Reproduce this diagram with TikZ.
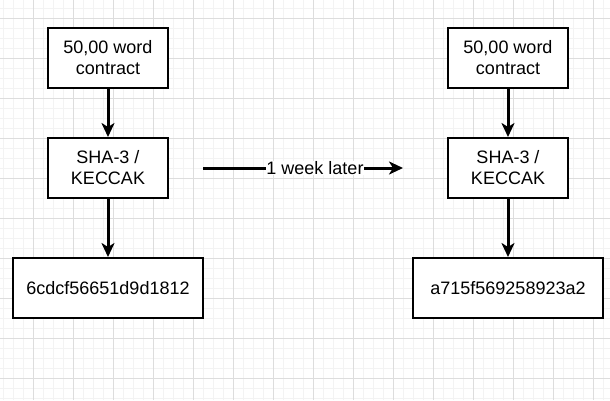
\documentclass[tikz,border=0pt]{standalone}
\usepackage{fontspec}
\setmainfont{Liberation Sans}
\usetikzlibrary{arrows.meta}
\definecolor{gridminor}{RGB}{243,243,243}
\definecolor{gridmajor}{RGB}{221,221,221}
\tikzset{
  hashbox/.style={draw=black, line width=1.5pt, fill=white,
    minimum width=90pt, minimum height=45pt, inner sep=0pt,
    align=center, font=\fontsize{13.5}{15.75}\selectfont},
  wide/.style={minimum width=142.5pt},
  flow/.style={line width=2.25pt,
    -{Stealth[length=10.5pt, width=9.75pt, inset=3pt]}},
}
\begin{document}
\begin{tikzpicture}[x=0.75pt, y=-0.75pt]
  \useasboundingbox (0,0) rectangle (610,400);
  % background grid
  \foreach \gx in {3,13,...,603}
    \draw[gridminor, line width=0.75pt] (\gx,0) -- (\gx,400);
  \foreach \gy in {8,18,...,398}
    \draw[gridminor, line width=0.75pt] (0,\gy) -- (610,\gy);
  \foreach \gx in {33,73,...,593}
    \draw[gridmajor, line width=0.75pt] (\gx,0) -- (\gx,400);
  \foreach \gy in {18,58,...,378}
    \draw[gridmajor, line width=0.75pt] (0,\gy) -- (610,\gy);

  % before
  \node[hashbox] (doc1) at (108,58) {50,00 word\\contract};
  \node[hashbox] (sha1) at (108,168) {SHA-3 /\\KECCAK};
  \node[hashbox, wide] (hash1) at (108,288) {6cdcf56651d9d1812};
  \draw[flow] (doc1) -- (sha1);
  \draw[flow] (sha1) -- (hash1);

  % after
  \node[hashbox] (doc2) at (508,58) {50,00 word\\contract};
  \node[hashbox] (sha2) at (508,168) {SHA-3 /\\KECCAK};
  \node[hashbox, wide] (hash2) at (508,288) {a715f569258923a2};
  \draw[flow] (doc2) -- (sha2);
  \draw[flow] (sha2) -- (hash2);

  % time gap
  \coordinate (gapstart) at (203,168);
  \coordinate (gapend) at (403,168);
  \draw[flow] (gapstart) -- (gapend);
  \node[fill=white, inner sep=0.5pt, font=\fontsize{13.5}{15.75}\selectfont]
    (gap) at (315,168) {1 week later};
\end{tikzpicture}
\end{document}
